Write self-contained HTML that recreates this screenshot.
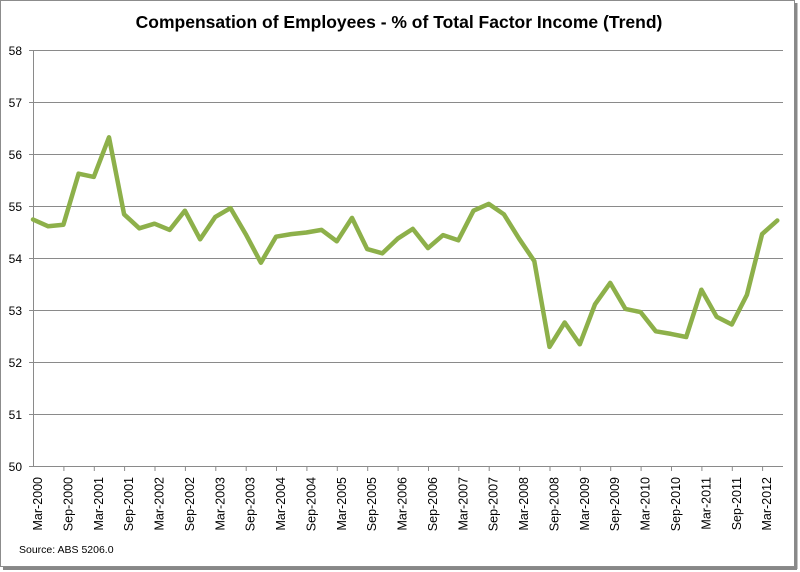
<!DOCTYPE html>
<html><head><meta charset="utf-8"><style>body{margin:0;background:#fff}svg{display:block}text{font-family:"Liberation Sans",sans-serif}</style></head>
<body>
<svg width="800" height="572" viewBox="0 0 800 572" xmlns="http://www.w3.org/2000/svg">
<rect x="0" y="0" width="800" height="572" fill="#fff"/>
<rect x="0.5" y="0.5" width="794" height="566" fill="#fff" stroke="#8c8c8c"/>
<line x1="796" y1="3" x2="796" y2="569" stroke="#888" stroke-width="3"/>
<line x1="3" y1="568.5" x2="797" y2="568.5" stroke="#888" stroke-width="3"/>
<text x="399" y="28" text-anchor="middle" font-size="17.5" font-weight="bold" fill="#000">Compensation of Employees - % of Total Factor Income (Trend)</text>
<g stroke="#8a8a8a" stroke-width="1">
<line x1="29" y1="50.5" x2="783" y2="50.5"/>
<line x1="29" y1="102.5" x2="783" y2="102.5"/>
<line x1="29" y1="154.5" x2="783" y2="154.5"/>
<line x1="29" y1="206.5" x2="783" y2="206.5"/>
<line x1="29" y1="258.5" x2="783" y2="258.5"/>
<line x1="29" y1="310.5" x2="783" y2="310.5"/>
<line x1="29" y1="362.5" x2="783" y2="362.5"/>
<line x1="29" y1="414.5" x2="783" y2="414.5"/>
<line x1="29" y1="466.5" x2="783" y2="466.5"/>
<line x1="33.5" y1="50" x2="33.5" y2="467"/>
</g>
<g font-size="12" fill="#000" text-anchor="end">
<text x="22" y="55">58</text><text x="22" y="107">57</text><text x="22" y="159">56</text><text x="22" y="211">55</text><text x="22" y="263">54</text><text x="22" y="315">53</text><text x="22" y="367">52</text><text x="22" y="419">51</text><text x="22" y="471">50</text>
</g>
<g stroke="#8a8a8a" stroke-width="1">
<line x1="63.9" y1="466" x2="63.9" y2="471"/><line x1="94.3" y1="466" x2="94.3" y2="471"/><line x1="124.6" y1="466" x2="124.6" y2="471"/><line x1="155" y1="466" x2="155" y2="471"/><line x1="185.4" y1="466" x2="185.4" y2="471"/><line x1="215.8" y1="466" x2="215.8" y2="471"/><line x1="246.2" y1="466" x2="246.2" y2="471"/><line x1="276.5" y1="466" x2="276.5" y2="471"/><line x1="306.9" y1="466" x2="306.9" y2="471"/><line x1="337.3" y1="466" x2="337.3" y2="471"/><line x1="367.7" y1="466" x2="367.7" y2="471"/><line x1="398.1" y1="466" x2="398.1" y2="471"/><line x1="428.5" y1="466" x2="428.5" y2="471"/><line x1="458.8" y1="466" x2="458.8" y2="471"/><line x1="489.2" y1="466" x2="489.2" y2="471"/><line x1="519.6" y1="466" x2="519.6" y2="471"/><line x1="550" y1="466" x2="550" y2="471"/><line x1="580.3" y1="466" x2="580.3" y2="471"/><line x1="610.7" y1="466" x2="610.7" y2="471"/><line x1="641.1" y1="466" x2="641.1" y2="471"/><line x1="671.5" y1="466" x2="671.5" y2="471"/><line x1="701.9" y1="466" x2="701.9" y2="471"/><line x1="732.3" y1="466" x2="732.3" y2="471"/><line x1="762.6" y1="466" x2="762.6" y2="471"/>
</g>
<g font-size="12.5" fill="#000" text-anchor="end">
<text transform="translate(42,477) rotate(-90)">Mar-2000</text>
<text transform="translate(72.4,477) rotate(-90)">Sep-2000</text>
<text transform="translate(102.8,477) rotate(-90)">Mar-2001</text>
<text transform="translate(133.1,477) rotate(-90)">Sep-2001</text>
<text transform="translate(163.5,477) rotate(-90)">Mar-2002</text>
<text transform="translate(193.9,477) rotate(-90)">Sep-2002</text>
<text transform="translate(224.3,477) rotate(-90)">Mar-2003</text>
<text transform="translate(254.7,477) rotate(-90)">Sep-2003</text>
<text transform="translate(285,477) rotate(-90)">Mar-2004</text>
<text transform="translate(315.4,477) rotate(-90)">Sep-2004</text>
<text transform="translate(345.8,477) rotate(-90)">Mar-2005</text>
<text transform="translate(376.2,477) rotate(-90)">Sep-2005</text>
<text transform="translate(406.6,477) rotate(-90)">Mar-2006</text>
<text transform="translate(437,477) rotate(-90)">Sep-2006</text>
<text transform="translate(467.3,477) rotate(-90)">Mar-2007</text>
<text transform="translate(497.7,477) rotate(-90)">Sep-2007</text>
<text transform="translate(528.1,477) rotate(-90)">Mar-2008</text>
<text transform="translate(558.5,477) rotate(-90)">Sep-2008</text>
<text transform="translate(588.8,477) rotate(-90)">Mar-2009</text>
<text transform="translate(619.2,477) rotate(-90)">Sep-2009</text>
<text transform="translate(649.6,477) rotate(-90)">Mar-2010</text>
<text transform="translate(680,477) rotate(-90)">Sep-2010</text>
<text transform="translate(710.4,477) rotate(-90)">Mar-2011</text>
<text transform="translate(740.8,477) rotate(-90)">Sep-2011</text>
<text transform="translate(771.1,477) rotate(-90)">Mar-2012</text>
</g>
<text x="19" y="553" font-size="10.5" fill="#000">Source: ABS 5206.0</text>
<polyline fill="none" stroke="#8db04a" stroke-width="4.5" stroke-linejoin="round" stroke-linecap="round" points="33,219.5 48.2,226.3 63.4,224.7 78.6,173.7 93.8,176.9 109,137.3 124.1,214.3 139.3,228.3 154.5,223.7 169.7,229.9 184.9,210.7 200.1,239.3 215.3,216.9 230.5,208.1 245.7,234.1 260.9,262.7 276,236.7 291.2,234.1 306.4,232.5 321.6,229.9 336.8,241.3 352,217.9 367.2,249.1 382.4,253.3 397.6,238.7 412.8,228.9 428,248.1 443.1,235.1 458.3,240.3 473.5,210.7 488.7,203.9 503.9,214.3 519.1,238.7 534.3,261.1 549.5,346.9 564.7,322.5 579.8,344.3 595,304.3 610.2,282.9 625.4,308.9 640.6,312.1 655.8,331.3 671,333.9 686.2,337 701.4,289.7 716.6,316.7 731.8,324.5 746.9,294.9 762.1,234.1 777.3,220.5"/>
</svg>
</body></html>
